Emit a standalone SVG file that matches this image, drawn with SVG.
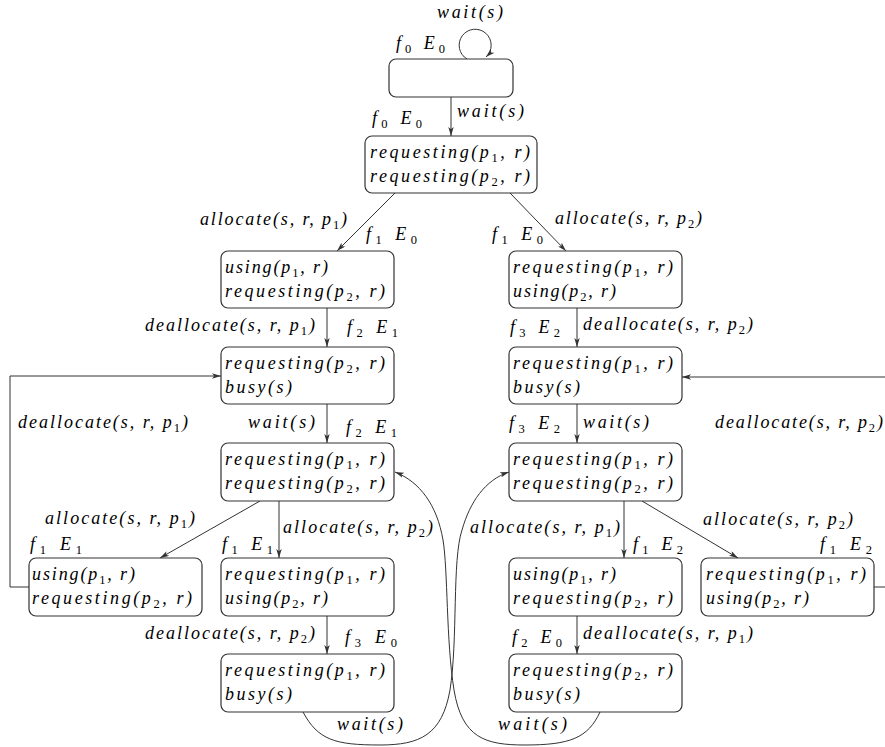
<svg xmlns="http://www.w3.org/2000/svg" width="885" height="747" viewBox="0 0 885 747">
<style>
.box{fill:#fff;stroke:#333;stroke-width:1.2}
.e{fill:none;stroke:#333;stroke-width:1}
text{font-family:"Liberation Serif","DejaVu Serif",serif;font-style:italic;font-size:18px;fill:#000}
.s{font-size:12.5px;font-style:normal}
</style>
<defs>
<marker id="ar" viewBox="0 0 10 6" refX="10" refY="3" markerWidth="9" markerHeight="5.4" markerUnits="userSpaceOnUse" orient="auto">
<path d="M0,0 L10,3 L0,6 L2.5,3 z" fill="#333"/>
</marker>
</defs>
<rect width="885" height="747" fill="#fff"/>
<g id="connectors">
<path class="e" d="M467,59 A16,16 0 1 1 486,57" marker-end="url(#ar)"/>
<path class="e" d="M451,97 L451,136" marker-end="url(#ar)"/>
<path class="e" d="M395,193 L337,251" marker-end="url(#ar)"/>
<path class="e" d="M510,193 L566,251" marker-end="url(#ar)"/>
<path class="e" d="M327,308 L327,347" marker-end="url(#ar)"/>
<path class="e" d="M577,308 L577,347" marker-end="url(#ar)"/>
<path class="e" d="M327,404 L327,443" marker-end="url(#ar)"/>
<path class="e" d="M577,404 L577,443" marker-end="url(#ar)"/>
<path class="e" d="M260,501 L160,558" marker-end="url(#ar)"/>
<path class="e" d="M279,501 L279,558" marker-end="url(#ar)"/>
<path class="e" d="M624,501 L624,558" marker-end="url(#ar)"/>
<path class="e" d="M642,501 L738,558" marker-end="url(#ar)"/>
<path class="e" d="M327,616 L327,654" marker-end="url(#ar)"/>
<path class="e" d="M577,616 L577,654" marker-end="url(#ar)"/>
<path class="e" d="M29,587 L10,587 L10,376 L221,376" marker-end="url(#ar)"/>
<path class="e" d="M874,587 L890,587 L890,377 L682,377" marker-end="url(#ar)"/>
<path class="e" d="M303,712 C318,740 335,745 380,745 C420,745 442,735 450,690 C458,640 452,560 462,530 C470,502 485,480 509,472" marker-end="url(#ar)"/>
<path class="e" d="M600,712 C588,738 570,745 525,745 C485,745 462,738 454,690 C446,640 448,570 443,540 C437,505 420,482 395,472" marker-end="url(#ar)"/>
</g>
<g id="A"><rect class="box" x="389" y="59" width="124" height="38" rx="7"/></g>
<g id="B"><rect class="box" x="365" y="136" width="172" height="57" rx="7"/>
<text x="370" y="158" textLength="160" lengthAdjust="spacing">requesting(p<tspan class="s" dy="4">1</tspan><tspan dy="-4">, r)</tspan></text>
<text x="370" y="182" textLength="160" lengthAdjust="spacing">requesting(p<tspan class="s" dy="4">2</tspan><tspan dy="-4">, r)</tspan></text></g>
<g id="C"><rect class="box" x="221" y="251" width="173" height="57" rx="7"/>
<text x="225" y="273" textLength="103" lengthAdjust="spacing">using(p<tspan class="s" dy="4">1</tspan><tspan dy="-4">, r)</tspan></text>
<text x="225" y="297" textLength="160" lengthAdjust="spacing">requesting(p<tspan class="s" dy="4">2</tspan><tspan dy="-4">, r)</tspan></text></g>
<g id="D"><rect class="box" x="509" y="251" width="173" height="57" rx="7"/>
<text x="513" y="273" textLength="160" lengthAdjust="spacing">requesting(p<tspan class="s" dy="4">1</tspan><tspan dy="-4">, r)</tspan></text>
<text x="513" y="297" textLength="103" lengthAdjust="spacing">using(p<tspan class="s" dy="4">2</tspan><tspan dy="-4">, r)</tspan></text></g>
<g id="E"><rect class="box" x="221" y="347" width="173" height="57" rx="7"/>
<text x="225" y="369" textLength="160" lengthAdjust="spacing">requesting(p<tspan class="s" dy="4">2</tspan><tspan dy="-4">, r)</tspan></text>
<text x="225" y="393" textLength="67" lengthAdjust="spacing">busy(s)</text></g>
<g id="F"><rect class="box" x="509" y="347" width="173" height="57" rx="7"/>
<text x="513" y="369" textLength="160" lengthAdjust="spacing">requesting(p<tspan class="s" dy="4">1</tspan><tspan dy="-4">, r)</tspan></text>
<text x="513" y="393" textLength="67" lengthAdjust="spacing">busy(s)</text></g>
<g id="G"><rect class="box" x="221" y="443" width="173" height="58" rx="7"/>
<text x="225" y="465" textLength="160" lengthAdjust="spacing">requesting(p<tspan class="s" dy="4">1</tspan><tspan dy="-4">, r)</tspan></text>
<text x="225" y="489" textLength="160" lengthAdjust="spacing">requesting(p<tspan class="s" dy="4">2</tspan><tspan dy="-4">, r)</tspan></text></g>
<g id="H"><rect class="box" x="509" y="443" width="173" height="58" rx="7"/>
<text x="513" y="465" textLength="160" lengthAdjust="spacing">requesting(p<tspan class="s" dy="4">1</tspan><tspan dy="-4">, r)</tspan></text>
<text x="513" y="489" textLength="160" lengthAdjust="spacing">requesting(p<tspan class="s" dy="4">2</tspan><tspan dy="-4">, r)</tspan></text></g>
<g id="I"><rect class="box" x="29" y="558" width="173" height="58" rx="7"/>
<text x="32" y="580" textLength="103" lengthAdjust="spacing">using(p<tspan class="s" dy="4">1</tspan><tspan dy="-4">, r)</tspan></text>
<text x="32" y="604" textLength="160" lengthAdjust="spacing">requesting(p<tspan class="s" dy="4">2</tspan><tspan dy="-4">, r)</tspan></text></g>
<g id="J"><rect class="box" x="221" y="558" width="173" height="58" rx="7"/>
<text x="225" y="580" textLength="160" lengthAdjust="spacing">requesting(p<tspan class="s" dy="4">1</tspan><tspan dy="-4">, r)</tspan></text>
<text x="225" y="604" textLength="103" lengthAdjust="spacing">using(p<tspan class="s" dy="4">2</tspan><tspan dy="-4">, r)</tspan></text></g>
<g id="K"><rect class="box" x="509" y="558" width="173" height="58" rx="7"/>
<text x="513" y="580" textLength="103" lengthAdjust="spacing">using(p<tspan class="s" dy="4">1</tspan><tspan dy="-4">, r)</tspan></text>
<text x="513" y="604" textLength="160" lengthAdjust="spacing">requesting(p<tspan class="s" dy="4">2</tspan><tspan dy="-4">, r)</tspan></text></g>
<g id="L"><rect class="box" x="701" y="558" width="173" height="58" rx="7"/>
<text x="706" y="580" textLength="160" lengthAdjust="spacing">requesting(p<tspan class="s" dy="4">1</tspan><tspan dy="-4">, r)</tspan></text>
<text x="706" y="604" textLength="103" lengthAdjust="spacing">using(p<tspan class="s" dy="4">2</tspan><tspan dy="-4">, r)</tspan></text></g>
<g id="M"><rect class="box" x="221" y="654" width="173" height="58" rx="7"/>
<text x="225" y="676" textLength="160" lengthAdjust="spacing">requesting(p<tspan class="s" dy="4">1</tspan><tspan dy="-4">, r)</tspan></text>
<text x="225" y="700" textLength="67" lengthAdjust="spacing">busy(s)</text></g>
<g id="N"><rect class="box" x="509" y="654" width="173" height="58" rx="7"/>
<text x="513" y="676" textLength="160" lengthAdjust="spacing">requesting(p<tspan class="s" dy="4">2</tspan><tspan dy="-4">, r)</tspan></text>
<text x="513" y="700" textLength="67" lengthAdjust="spacing">busy(s)</text></g>
<g id="labels">
<text x="437" y="18" textLength="66" lengthAdjust="spacing">wait(s)</text>
<text x="396" y="49" textLength="49" lengthAdjust="spacing">f<tspan class="s" dy="4">0</tspan><tspan dy="-4">  E</tspan><tspan class="s" dy="4">0</tspan></text>
<text x="372" y="124" textLength="50" lengthAdjust="spacing">f<tspan class="s" dy="4">0</tspan><tspan dy="-4">  E</tspan><tspan class="s" dy="4">0</tspan></text>
<text x="457" y="117" textLength="67" lengthAdjust="spacing">wait(s)</text>
<text x="200" y="225" textLength="147" lengthAdjust="spacing">allocate(s, r, p<tspan class="s" dy="4">1</tspan><tspan dy="-4">)</tspan></text>
<text x="366" y="240" textLength="51" lengthAdjust="spacing">f<tspan class="s" dy="4">1</tspan><tspan dy="-4">  E</tspan><tspan class="s" dy="4">0</tspan></text>
<text x="492" y="240" textLength="51" lengthAdjust="spacing">f<tspan class="s" dy="4">1</tspan><tspan dy="-4">  E</tspan><tspan class="s" dy="4">0</tspan></text>
<text x="555" y="224" textLength="147" lengthAdjust="spacing">allocate(s, r, p<tspan class="s" dy="4">2</tspan><tspan dy="-4">)</tspan></text>
<text x="145" y="331" textLength="170" lengthAdjust="spacing">deallocate(s, r, p<tspan class="s" dy="4">1</tspan><tspan dy="-4">)</tspan></text>
<text x="347" y="333" textLength="51" lengthAdjust="spacing">f<tspan class="s" dy="4">2</tspan><tspan dy="-4">  E</tspan><tspan class="s" dy="4">1</tspan></text>
<text x="510" y="333" textLength="50" lengthAdjust="spacing">f<tspan class="s" dy="4">3</tspan><tspan dy="-4">  E</tspan><tspan class="s" dy="4">2</tspan></text>
<text x="583" y="330" textLength="170" lengthAdjust="spacing">deallocate(s, r, p<tspan class="s" dy="4">2</tspan><tspan dy="-4">)</tspan></text>
<text x="18" y="428" textLength="170" lengthAdjust="spacing">deallocate(s, r, p<tspan class="s" dy="4">1</tspan><tspan dy="-4">)</tspan></text>
<text x="248" y="428" textLength="67" lengthAdjust="spacing">wait(s)</text>
<text x="346" y="433" textLength="51" lengthAdjust="spacing">f<tspan class="s" dy="4">2</tspan><tspan dy="-4">  E</tspan><tspan class="s" dy="4">1</tspan></text>
<text x="509" y="429" textLength="51" lengthAdjust="spacing">f<tspan class="s" dy="4">3</tspan><tspan dy="-4">  E</tspan><tspan class="s" dy="4">2</tspan></text>
<text x="583" y="428" textLength="66" lengthAdjust="spacing">wait(s)</text>
<text x="715" y="428" textLength="168" lengthAdjust="spacing">deallocate(s, r, p<tspan class="s" dy="4">2</tspan><tspan dy="-4">)</tspan></text>
<text x="45" y="524" textLength="150" lengthAdjust="spacing">allocate(s, r, p<tspan class="s" dy="4">1</tspan><tspan dy="-4">)</tspan></text>
<text x="30" y="550" textLength="52" lengthAdjust="spacing">f<tspan class="s" dy="4">1</tspan><tspan dy="-4">  E</tspan><tspan class="s" dy="4">1</tspan></text>
<text x="283" y="533" textLength="150" lengthAdjust="spacing">allocate(s, r, p<tspan class="s" dy="4">2</tspan><tspan dy="-4">)</tspan></text>
<text x="222" y="550" textLength="51" lengthAdjust="spacing">f<tspan class="s" dy="4">1</tspan><tspan dy="-4">  E</tspan><tspan class="s" dy="4">1</tspan></text>
<text x="470" y="533" textLength="150" lengthAdjust="spacing">allocate(s, r, p<tspan class="s" dy="4">1</tspan><tspan dy="-4">)</tspan></text>
<text x="633" y="550" textLength="50" lengthAdjust="spacing">f<tspan class="s" dy="4">1</tspan><tspan dy="-4">  E</tspan><tspan class="s" dy="4">2</tspan></text>
<text x="703" y="525" textLength="150" lengthAdjust="spacing">allocate(s, r, p<tspan class="s" dy="4">2</tspan><tspan dy="-4">)</tspan></text>
<text x="820" y="550" textLength="52" lengthAdjust="spacing">f<tspan class="s" dy="4">1</tspan><tspan dy="-4">  E</tspan><tspan class="s" dy="4">2</tspan></text>
<text x="145" y="639" textLength="170" lengthAdjust="spacing">deallocate(s, r, p<tspan class="s" dy="4">2</tspan><tspan dy="-4">)</tspan></text>
<text x="345" y="643" textLength="52" lengthAdjust="spacing">f<tspan class="s" dy="4">3</tspan><tspan dy="-4">  E</tspan><tspan class="s" dy="4">0</tspan></text>
<text x="512" y="643" textLength="50" lengthAdjust="spacing">f<tspan class="s" dy="4">2</tspan><tspan dy="-4">  E</tspan><tspan class="s" dy="4">0</tspan></text>
<text x="583" y="639" textLength="170" lengthAdjust="spacing">deallocate(s, r, p<tspan class="s" dy="4">1</tspan><tspan dy="-4">)</tspan></text>
<text x="337" y="730" textLength="66" lengthAdjust="spacing">wait(s)</text>
<text x="498" y="730" textLength="69" lengthAdjust="spacing">wait(s)</text>
</g>
</svg>
